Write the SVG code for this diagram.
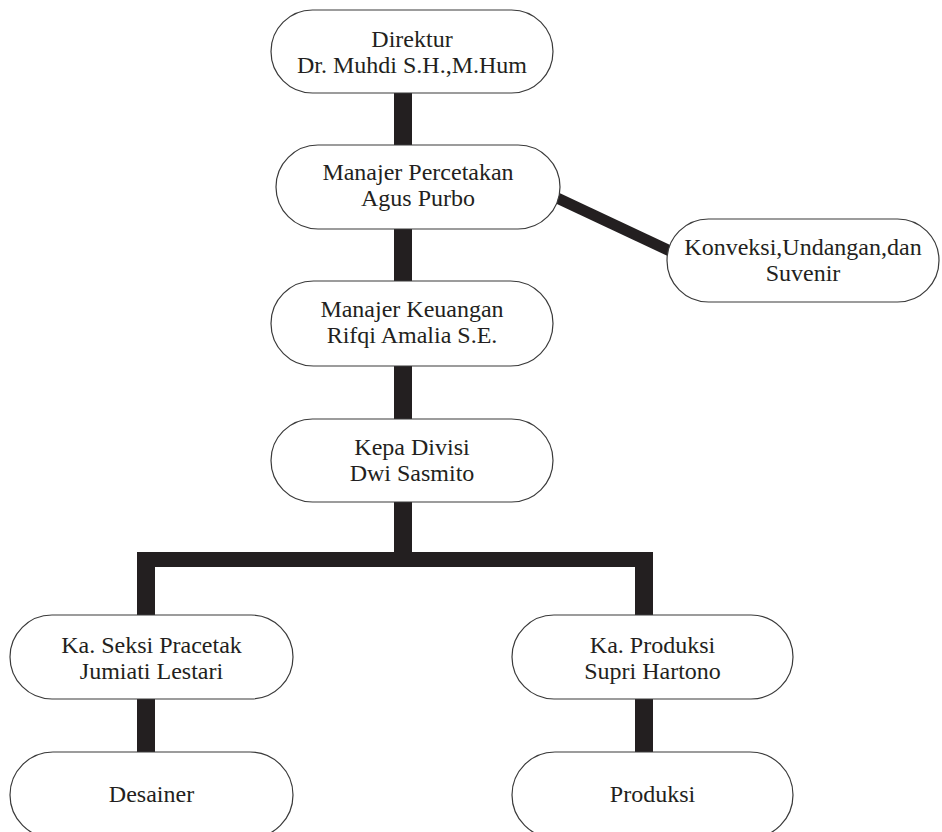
<svg xmlns="http://www.w3.org/2000/svg" width="942" height="832" viewBox="0 0 942 832">
<style>
.box{fill:#fff;stroke:#3a3a3a;stroke-width:1.2}
.t{font-family:"Liberation Serif","Times New Roman",serif;font-size:24px;fill:#231f20;text-anchor:middle}
.c{fill:#231f20;stroke:none}
</style>
<rect width="942" height="832" fill="#fff"/>
<g id="connectors">
<rect class="c" x="394" y="92" width="18" height="54"/>
<rect class="c" x="394" y="228" width="18" height="54"/>
<rect class="c" x="394" y="365" width="18" height="55"/>
<rect class="c" x="394" y="501" width="18" height="60"/>
<rect class="c" x="137" y="552" width="516" height="15"/>
<rect class="c" x="137" y="552" width="18" height="64"/>
<rect class="c" x="635" y="552" width="18" height="64"/>
<rect class="c" x="137" y="698" width="18" height="55"/>
<rect class="c" x="635" y="698" width="18" height="55"/>
<line x1="555" y1="197" x2="670" y2="251" stroke="#231f20" stroke-width="11"/>
</g>
<g id="direktur">
<rect class="box" x="271" y="10" width="282" height="83" rx="41.5"/>
<text class="t" x="412" y="47">Direktur</text>
<text class="t" x="412" y="73">Dr. Muhdi S.H.,M.Hum</text>
</g>
<g id="manajer-percetakan">
<rect class="box" x="276" y="145" width="284" height="84" rx="42"/>
<text class="t" x="418" y="180">Manajer Percetakan</text>
<text class="t" x="418" y="206">Agus Purbo</text>
</g>
<g id="konveksi">
<rect class="box" x="667" y="219" width="272" height="83" rx="41.5"/>
<text class="t" x="803" y="255">Konveksi,Undangan,dan</text>
<text class="t" x="803" y="281">Suvenir</text>
</g>
<g id="manajer-keuangan">
<rect class="box" x="271" y="281" width="282" height="85" rx="42.5"/>
<text class="t" x="412" y="317">Manajer Keuangan</text>
<text class="t" x="412" y="343">Rifqi Amalia S.E.</text>
</g>
<g id="kepa-divisi">
<rect class="box" x="271" y="419" width="282" height="83" rx="41.5"/>
<text class="t" x="412" y="455">Kepa Divisi</text>
<text class="t" x="412" y="481">Dwi Sasmito</text>
</g>
<g id="ka-seksi-pracetak">
<rect class="box" x="10" y="615" width="283" height="84" rx="42"/>
<text class="t" x="151.5" y="653">Ka. Seksi Pracetak</text>
<text class="t" x="151.5" y="679">Jumiati Lestari</text>
</g>
<g id="ka-produksi">
<rect class="box" x="512" y="615" width="281" height="84" rx="42"/>
<text class="t" x="652.5" y="653">Ka. Produksi</text>
<text class="t" x="652.5" y="679">Supri Hartono</text>
</g>
<g id="desainer">
<rect class="box" x="10" y="752" width="283" height="86" rx="43"/>
<text class="t" x="151.5" y="802">Desainer</text>
</g>
<g id="produksi">
<rect class="box" x="512" y="752" width="281" height="86" rx="43"/>
<text class="t" x="652.5" y="802">Produksi</text>
</g>
</svg>
